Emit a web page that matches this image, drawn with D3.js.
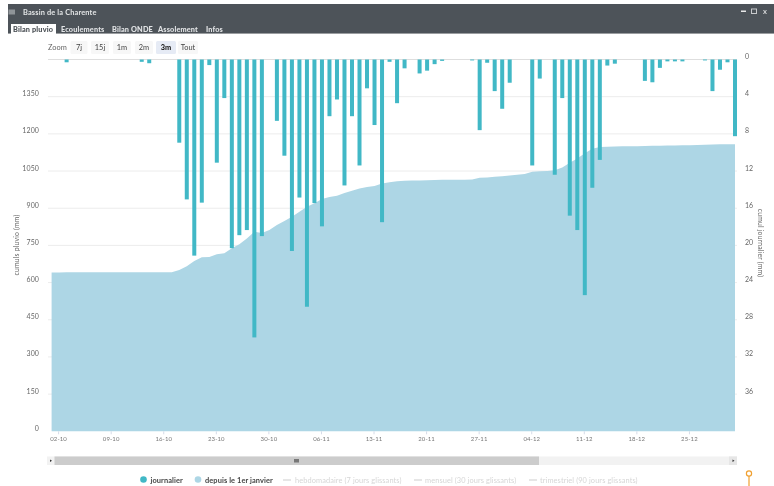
<!DOCTYPE html>
<html><head><meta charset="utf-8">
<script src="https://cdn.jsdelivr.net/npm/d3@7/dist/d3.min.js"></script>
<style>
html,body{margin:0;padding:0;background:#fff;overflow:hidden}
svg{display:block;font-family:Lato,"Open Sans",sans-serif;filter:blur(0.35px)}
</style></head><body>
<svg id="c" width="774" height="486"></svg>
<script>
const windowTitle = "Bassin de la Charente";
const tabs = ["Bilan pluvio","Ecoulements","Bilan ONDE","Assolement","Infos"];
const zoomButtons = ["7j","15j","1m","2m","3m","Tout"];
const cumulTicks = [0,150,300,450,600,750,900,1050,1200,1350];
const dailyTicks = [0,4,8,12,16,20,24,28,32,36];
const dateTicks = ["02-10","09-10","16-10","23-10","30-10","06-11","13-11","20-11","27-11","04-12","11-12","18-12","25-12"];
const legendSolid = ["journalier","depuis le 1er janvier"];
const legendMuted = ["hebdomadaire (7 jours glissants)","mensuel (30 jours glissants)","trimestriel (90 jours glissants)"];
// Daily rainfall (mm), 1 Oct to 31 Dec
const daily = [0,0,0.3,0,0,0,0,0,0,0,0,0,0.25,0.4,0,0,0,
 8.95,15.05,21.1,15.4,0.6,11.1,4.15,20.3,18.9,18.35,29.9,19,0,
 6.6,10.35,20.6,14.85,26.6,15.45,17.95,6.1,4.3,13.55,6.1,11.4,3.1,7.05,17.5,0.25,4.7,0.95,
 0,1.5,1.2,0.5,0.15,0,0,0,0.1,7.6,0.35,3.4,5.3,2.5,0,0,11.4,2.05,0,12.4,4.15,16.8,18.35,25.35,
 13.8,10.8,0.65,0.45,0,0,0,2.3,2.45,0.9,0.2,0.2,0.2,0,0,0.1,3.4,1.1,0.3,8.25];
// Cumulative rainfall since 1 January (mm)
const cumul = [641,641,641.3,641.3,641.3,641.3,641.3,641.3,641.3,641.3,641.3,641.3,641.6,642,642,642,642,
 651,666,687,702.5,703,714,718,738.5,755,778,805,800,812,
 832,848,866,886,906,920,937,945,950,961,970,980,986,990,1000,1005,1009,1011,
 1011.5,1012,1013,1014,1015,1015,1015,1015,1016,1023,1024,1027,1029,1032,1035,1038,1047,1049,1050,1053,1064,1083,1101,1122,
 1140,1147,1148,1149,1150,1150,1150,1151,1152,1152,1153,1153,1154,1154,1155,1156,1157,1158,1158,1158];

const svg = d3.select("#c");
const firstDay = new Date(2017,9,1);
const dayDate = i => d3.timeDay.offset(firstDay,i);
const top_=59.5, bottom=431.3, left=51.6, right=735;
const x = d3.scaleTime().domain([firstDay,dayDate(91)]).range([left,right]);
const yL = d3.scaleLinear().domain([0,1500]).range([bottom,top_]);
const yR = d3.scaleLinear().domain([0,40]).range([top_,bottom]);

// window chrome
svg.append("rect").attr("x",8).attr("y",4).attr("width",766).attr("height",29).attr("fill","#4d5359");
svg.append("rect").attr("x",8).attr("y",33).attr("width",766).attr("height",1).attr("fill","#9a9da0");
svg.append("rect").attr("x",8.5).attr("y",9.5).attr("width",6.5).attr("height",5).attr("fill","#8f9498");
svg.append("text").attr("x",23).attr("y",15).attr("font-size",7.4).attr("font-weight",700).attr("letter-spacing",0.15).attr("fill","#e4e6e7").text(windowTitle);
svg.append("rect").attr("x",741).attr("y",10.5).attr("width",5).attr("height",1.5).attr("fill","#e8e8e8");
svg.append("rect").attr("x",751.5).attr("y",9).attr("width",5).attr("height",4.5).attr("fill","none").attr("stroke","#c8cacc").attr("stroke-width",1);
svg.append("text").attr("x",765).attr("y",14).attr("text-anchor","middle").attr("font-size",7.5).attr("font-weight",700).attr("fill","#d8dadb").text("x");
svg.append("rect").attr("x",11).attr("y",24).attr("width",45).attr("height",10).attr("fill","#fff");
const tabX=[13,61,112,158,206];
svg.selectAll("text.tab").data(tabs).join("text").attr("class","tab")
  .attr("x",(d,i)=>tabX[i]).attr("y",31.5).attr("font-size",7.3).attr("font-weight",900).attr("letter-spacing",0.15)
  .attr("fill",(d,i)=>i===0?"#4a4f54":"#e2e4e6").text(d=>d);

// range selector
svg.append("text").attr("x",48).attr("y",49.5).attr("font-size",7.4).attr("fill","#666").text("Zoom");
const btnX=[79,100,122,144,166,188], btnW=[17,18,18,18,20,20];
svg.selectAll("rect.zb").data(zoomButtons).join("rect").attr("class","zb")
  .attr("x",(d,i)=>btnX[i]-btnW[i]/2).attr("y",41).attr("width",(d,i)=>btnW[i]).attr("height",13).attr("rx",1.5)
  .attr("fill",(d,i)=>i===4?"#e6ebf5":"#f7f7f7");
svg.selectAll("text.zt").data(zoomButtons).join("text").attr("class","zt")
  .attr("x",(d,i)=>btnX[i]).attr("y",49.5).attr("text-anchor","middle").attr("font-size",7.4)
  .attr("font-weight",(d,i)=>i===4?900:400).attr("fill",(d,i)=>i===4?"#222":"#444").text(d=>d);

// grid
svg.append("g").selectAll("line").data(cumulTicks.concat([1500]).filter(d=>d>0)).join("line")
  .attr("x1",48).attr("x2",737).attr("y1",d=>yL(d)).attr("y2",d=>yL(d))
  .attr("stroke",d=>d===1500?"#dedede":"#ececec").attr("stroke-width",1);

// area
const area = d3.area().x((d,i)=>x(dayDate(i))).y0(yL(0)).y1(d=>yL(d));
svg.append("path").datum(cumul).attr("d",area).attr("fill","#add6e5");

// bars
const barW=4;
svg.append("g").selectAll("rect").data(daily).join("rect")
  .attr("x",(d,i)=>x(dayDate(i))-barW/2).attr("y",yR(0)).attr("width",barW)
  .attr("height",d=>yR(d)-yR(0)).attr("fill","#41b8c6");

// axes
const xAxis = d3.axisBottom(x)
  .tickValues(dateTicks.map(s=>{const [d,m]=s.split("-").map(Number);return new Date(2017,m-1,d);}))
  .tickFormat(d3.timeFormat("%d-%m")).tickSize(3).tickPadding(2);
const gx = svg.append("g").attr("transform",`translate(-1,${bottom})`).call(xAxis);
gx.select(".domain").remove();
gx.selectAll("line").attr("stroke","#d5dbe8");
gx.selectAll("text").attr("font-size",6).attr("font-family","Lato").attr("fill","#777").attr("letter-spacing",0.1);

const gl = svg.append("g").attr("transform","translate(39,0)").call(d3.axisLeft(yL).tickValues(cumulTicks).tickFormat(d3.format("d")).tickSize(0).tickPadding(0));
gl.select(".domain").remove();
gl.selectAll("text").attr("dy",-1).attr("font-size",7).attr("font-family","Lato").attr("fill","#666").attr("letter-spacing",0.1);

const gr = svg.append("g").attr("transform","translate(745,0)").call(d3.axisRight(yR).tickValues(dailyTicks).tickSize(0).tickPadding(0));
gr.select(".domain").remove();
gr.selectAll("text").attr("dy",-1).attr("font-size",7).attr("font-family","Lato").attr("fill","#666");

svg.append("text").attr("transform","translate(17,245) rotate(-90)").attr("text-anchor","middle").attr("dy",2)
  .attr("font-size",6.8).attr("fill","#666").attr("letter-spacing",0.2).text("cumuls pluvio (mm)");
svg.append("text").attr("transform","translate(760,243) rotate(90)").attr("text-anchor","middle").attr("dy",2)
  .attr("font-size",6.8).attr("fill","#666").attr("letter-spacing",0.2).text("cumul journalier (mm)");

// navigator scrollbar
svg.append("rect").attr("x",47).attr("y",456.5).attr("width",690).attr("height",8.5).attr("fill","#f2f2f2");
svg.append("rect").attr("x",54.5).attr("y",456.5).attr("width",484.5).attr("height",8.5).attr("fill","#cccccc");
svg.append("rect").attr("x",729).attr("y",456.5).attr("width",8).attr("height",8.5).attr("fill","#e6e6e6");
svg.append("path").attr("d","M50 459.5l2 1.3l-2 1.3z").attr("fill","#333");
svg.append("path").attr("d","M732.5 459.5l2 1.3l-2 1.3z").attr("fill","#333");
svg.append("rect").attr("x",294).attr("y",459).attr("width",5).attr("height",3.5).attr("fill","#777");

// legend
const ly=480;
const solidX=[143.5,198], solidC=["#41b8c6","#add6e5"], solidT=[150.5,205];
svg.selectAll("circle.l").data(legendSolid).join("circle").attr("class","l")
  .attr("cx",(d,i)=>solidX[i]).attr("cy",ly-.5).attr("r",3.3).attr("fill",(d,i)=>solidC[i]);
svg.selectAll("text.ls").data(legendSolid).join("text").attr("class","ls")
  .attr("x",(d,i)=>solidT[i]).attr("y",ly+2.5).attr("font-size",7.4).attr("font-weight",700).attr("fill","#444").attr("letter-spacing",0.1).text(d=>d);
const mutedLine=[283,414,529], mutedT=[295,425,540];
svg.selectAll("line.lm").data(legendMuted).join("line").attr("class","lm")
  .attr("x1",(d,i)=>mutedLine[i]).attr("x2",(d,i)=>mutedLine[i]+8).attr("y1",ly).attr("y2",ly).attr("stroke","#d8d8d8").attr("stroke-width",1.3);
svg.selectAll("text.lm").data(legendMuted).join("text").attr("class","lm")
  .attr("x",(d,i)=>mutedT[i]).attr("y",ly+2.5).attr("font-size",7.4).attr("fill","#d6d6d6").attr("letter-spacing",0.1).text(d=>d);

// pin
svg.append("line").attr("x1",749).attr("x2",749).attr("y1",476).attr("y2",486).attr("stroke","#f0a030").attr("stroke-width",1.2);
svg.append("circle").attr("cx",749).attr("cy",473.5).attr("r",2.6).attr("fill","#fff").attr("stroke","#f0a030").attr("stroke-width",1.2);
</script>
</body></html>
